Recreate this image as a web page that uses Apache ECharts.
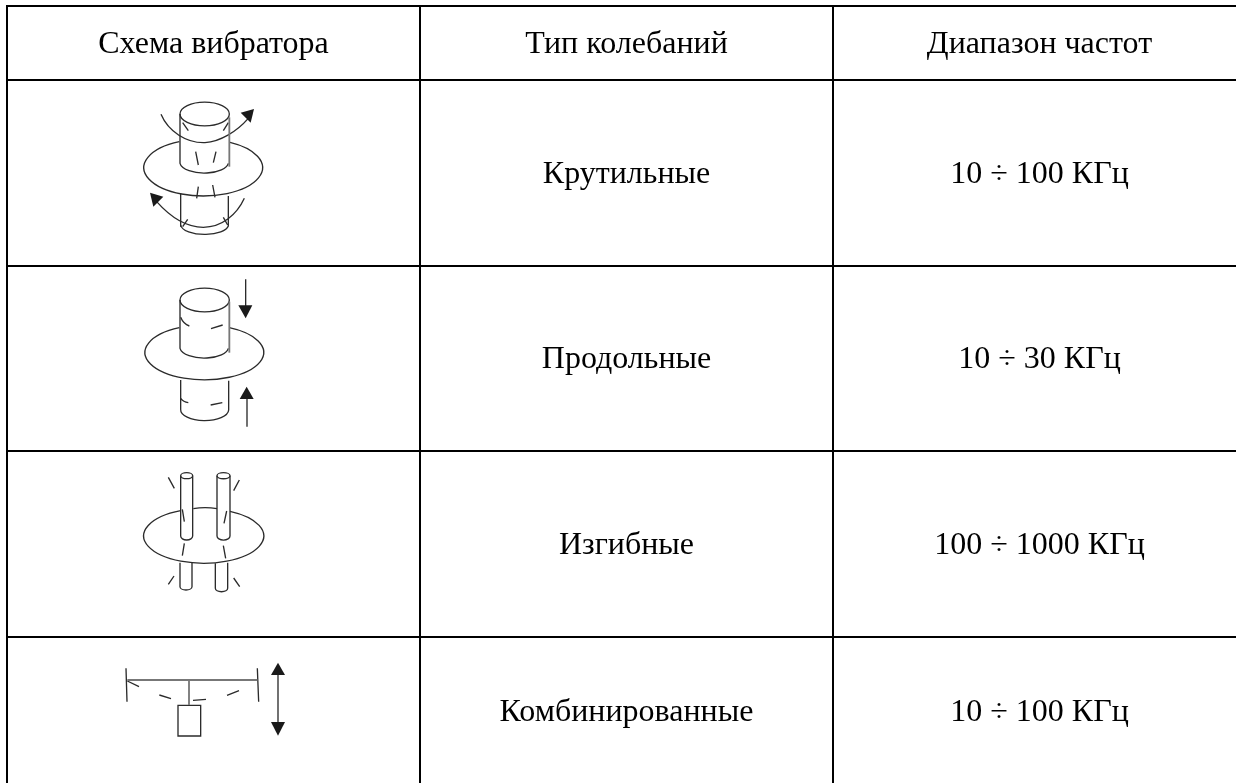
<!DOCTYPE html>
<html lang="ru">
<head>
<meta charset="utf-8">
<title>Схема вибратора</title>
<script src="https://cdn.jsdelivr.net/npm/echarts@6/dist/echarts.min.js"></script>
<style>
  html, body { margin: 0; padding: 0; background: #fff; }
  #chart { width: 1236px; height: 783px; }
</style>
</head>
<body>
<div id="chart"></div>
<script>
// table content
const columnHeads = ['Схема вибратора', 'Тип колебаний', 'Диапазон частот'];
const oscillationTypes = ['Крутильные', 'Продольные', 'Изгибные', 'Комбинированные'];
const frequencyRanges = ['10 ÷ 100 КГц', '10 ÷ 30 КГц', '100 ÷ 1000 КГц', '10 ÷ 100 КГц'];

// table rules (the table runs past the right and bottom edge of the picture)
const columnEdges = [7, 420, 833, 1246];
const rowEdges = [6, 80, 266, 451, 637, 786];
const rowTextY = [45, 175, 360, 546, 713];

// sketches: svg paths in 3x units, placed at a point of the axes
const torsional = {
  at: [90, 90],
  lines: [
    'M270 72 A73 35 0 1 1 418 72 A73 35 0 1 1 270 72',
    'M270 72 L270 220 A73 33 0 0 0 415 220',
    'M268 155 A178 85 0 1 0 420 157',
    'M272 310 L272 405 A72 30 0 0 0 415 408 L415 318',
    'M272 405 L272 410',
    'M278 98 L295 122 M415 98 L400 122 M317 185 L325 225 M378 185 L370 218',
    'M325 290 L320 325 M368 285 L375 322 M293 388 L278 410 M400 382 L413 405',
    'M213 73 C235 125 290 160 345 158 C390 155 440 125 475 85',
    'M463 325 C440 375 395 412 340 412 C290 412 240 380 200 335'
  ],
  soft: ['M418 82 L418 230'],
  heads: ['M492 57 L452 68 L482 98 Z', 'M180 308 L220 320 L190 350 Z']
};
const longitudinal = {
  at: [90, 270],
  lines: [
    'M270 90 A73 35 0 1 1 418 90 A73 35 0 1 1 270 90',
    'M270 90 L270 235 A73 33 0 0 0 415 235',
    'M268 173 A178 82 0 1 0 418 173',
    'M272 330 L272 418 A72 33 0 0 0 416 420 L416 332',
    'M272 142 Q280 162 298 168 M363 176 L398 165 M272 385 Q280 396 295 398 M362 405 L397 398',
    'M467 28 L467 110 M471 470 L471 385'
  ],
  soft: ['M418 95 L418 248'],
  heads: ['M445 106 L487 106 L467 145 Z', 'M449 387 L491 387 L470 350 Z']
};
const bending = {
  at: [90, 450],
  lines: [
    'M272 77 A18 9 0 1 1 308 77 A18 9 0 1 1 272 77',
    'M272 77 L272 258 A18 12 0 0 0 308 258 L308 77',
    'M381 77 A19 9 0 1 1 420 77 A19 9 0 1 1 381 77',
    'M381 77 L381 258 A19 12 0 0 0 420 258 L420 77',
    'M272 182 A180 82 0 1 0 420 184',
    'M310 176 Q345 170 381 176',
    'M270 338 L270 410 A18 10 0 0 0 306 410 L306 338',
    'M376 340 L376 415 A18 10 0 0 0 413 415 L413 338',
    'M235 82 L253 115 M448 90 L431 122 M277 178 L283 215 M410 183 L402 220',
    'M283 280 L277 317 M400 287 L407 325 M252 378 L235 403 M431 384 L449 410'
  ],
  soft: [],
  heads: []
};
const combined = {
  at: [90, 620],
  lines: [
    'M108 145 L111 245 M502 145 L506 245',
    'M264 256 L332 256 L332 348 L264 348 Z',
    'M112 183 L147 200 M208 225 L243 236 M309 241 L348 238 M411 226 L447 212',
    'M564 160 L564 310'
  ],
  soft: ['M112 180 L502 180', 'M297 183 L297 255'],
  heads: ['M543 165 L585 165 L564 128 Z', 'M543 306 L585 306 L564 347 Z']
};
const sketches = [torsional, longitudinal, bending, combined];

// [x1, y1, x2, y2] of each rule
const ruleData = [];
rowEdges.slice(0, 5).forEach((y) => ruleData.push([columnEdges[0] - 1, y, 1246, y]));
columnEdges.slice(0, 3).forEach((x) => ruleData.push([x, rowEdges[0], x, 786]));

// text cells
const cellTexts = [];
columnHeads.forEach((text, i) => cellTexts.push({ col: i, row: 0, text }));
oscillationTypes.forEach((text, i) => cellTexts.push({ col: 1, row: i + 1, text }));
frequencyRanges.forEach((text, i) => cellTexts.push({ col: 2, row: i + 1, text }));
const cellData = cellTexts.map((c) => [(columnEdges[c.col] + columnEdges[c.col + 1]) / 2, rowTextY[c.row]]);

const chart = echarts.init(document.getElementById('chart'));

chart.setOption({
  animation: false,
  backgroundColor: '#fff',
  grid: { left: 0, right: 0, top: 0, bottom: 0 },
  xAxis: { type: 'value', min: 0, max: 1236, show: false },
  yAxis: { type: 'value', min: 0, max: 783, inverse: true, show: false },
  series: [
    {
      name: 'rules',
      type: 'custom',
      silent: true,
      clip: true,
      data: ruleData,
      renderItem: (params, api) => {
        const p1 = api.coord([api.value(0), api.value(1)]);
        const p2 = api.coord([api.value(2), api.value(3)]);
        return {
          type: 'line',
          shape: { x1: p1[0], y1: p1[1], x2: p2[0], y2: p2[1] },
          style: { stroke: '#000', lineWidth: 2 }
        };
      }
    },
    {
      name: 'sketches',
      type: 'custom',
      silent: true,
      data: sketches.map((s) => s.at),
      renderItem: (params, api) => {
        const origin = api.coord([api.value(0), api.value(1)]);
        const sketch = sketches[params.dataIndex];
        const children = sketch.lines.map((d) => ({
          type: 'path',
          shape: { pathData: d },
          style: { fill: 'none', stroke: '#2b2b2b', lineWidth: 4 }
        }));
        sketch.soft.forEach((d) => {
          children.push({
            type: 'path',
            shape: { pathData: d },
            style: { fill: 'none', stroke: '#777', lineWidth: 5.5 }
          });
        });
        sketch.heads.forEach((d) => {
          children.push({
            type: 'path',
            shape: { pathData: d },
            style: { fill: '#1a1a1a', stroke: 'none' }
          });
        });
        return { type: 'group', x: origin[0], y: origin[1], scaleX: 1 / 3, scaleY: 1 / 3, children };
      }
    },
    {
      name: 'cells',
      type: 'custom',
      silent: true,
      data: cellData,
      renderItem: (params, api) => {
        const p = api.coord([api.value(0), api.value(1)]);
        return {
          type: 'text',
          x: p[0],
          y: p[1],
          style: {
            text: cellTexts[params.dataIndex].text,
            font: '32px "Liberation Serif", "Times New Roman", serif',
            fill: '#000',
            align: 'center',
            verticalAlign: 'middle'
          }
        };
      }
    }
  ]
});
</script>
</body>
</html>
